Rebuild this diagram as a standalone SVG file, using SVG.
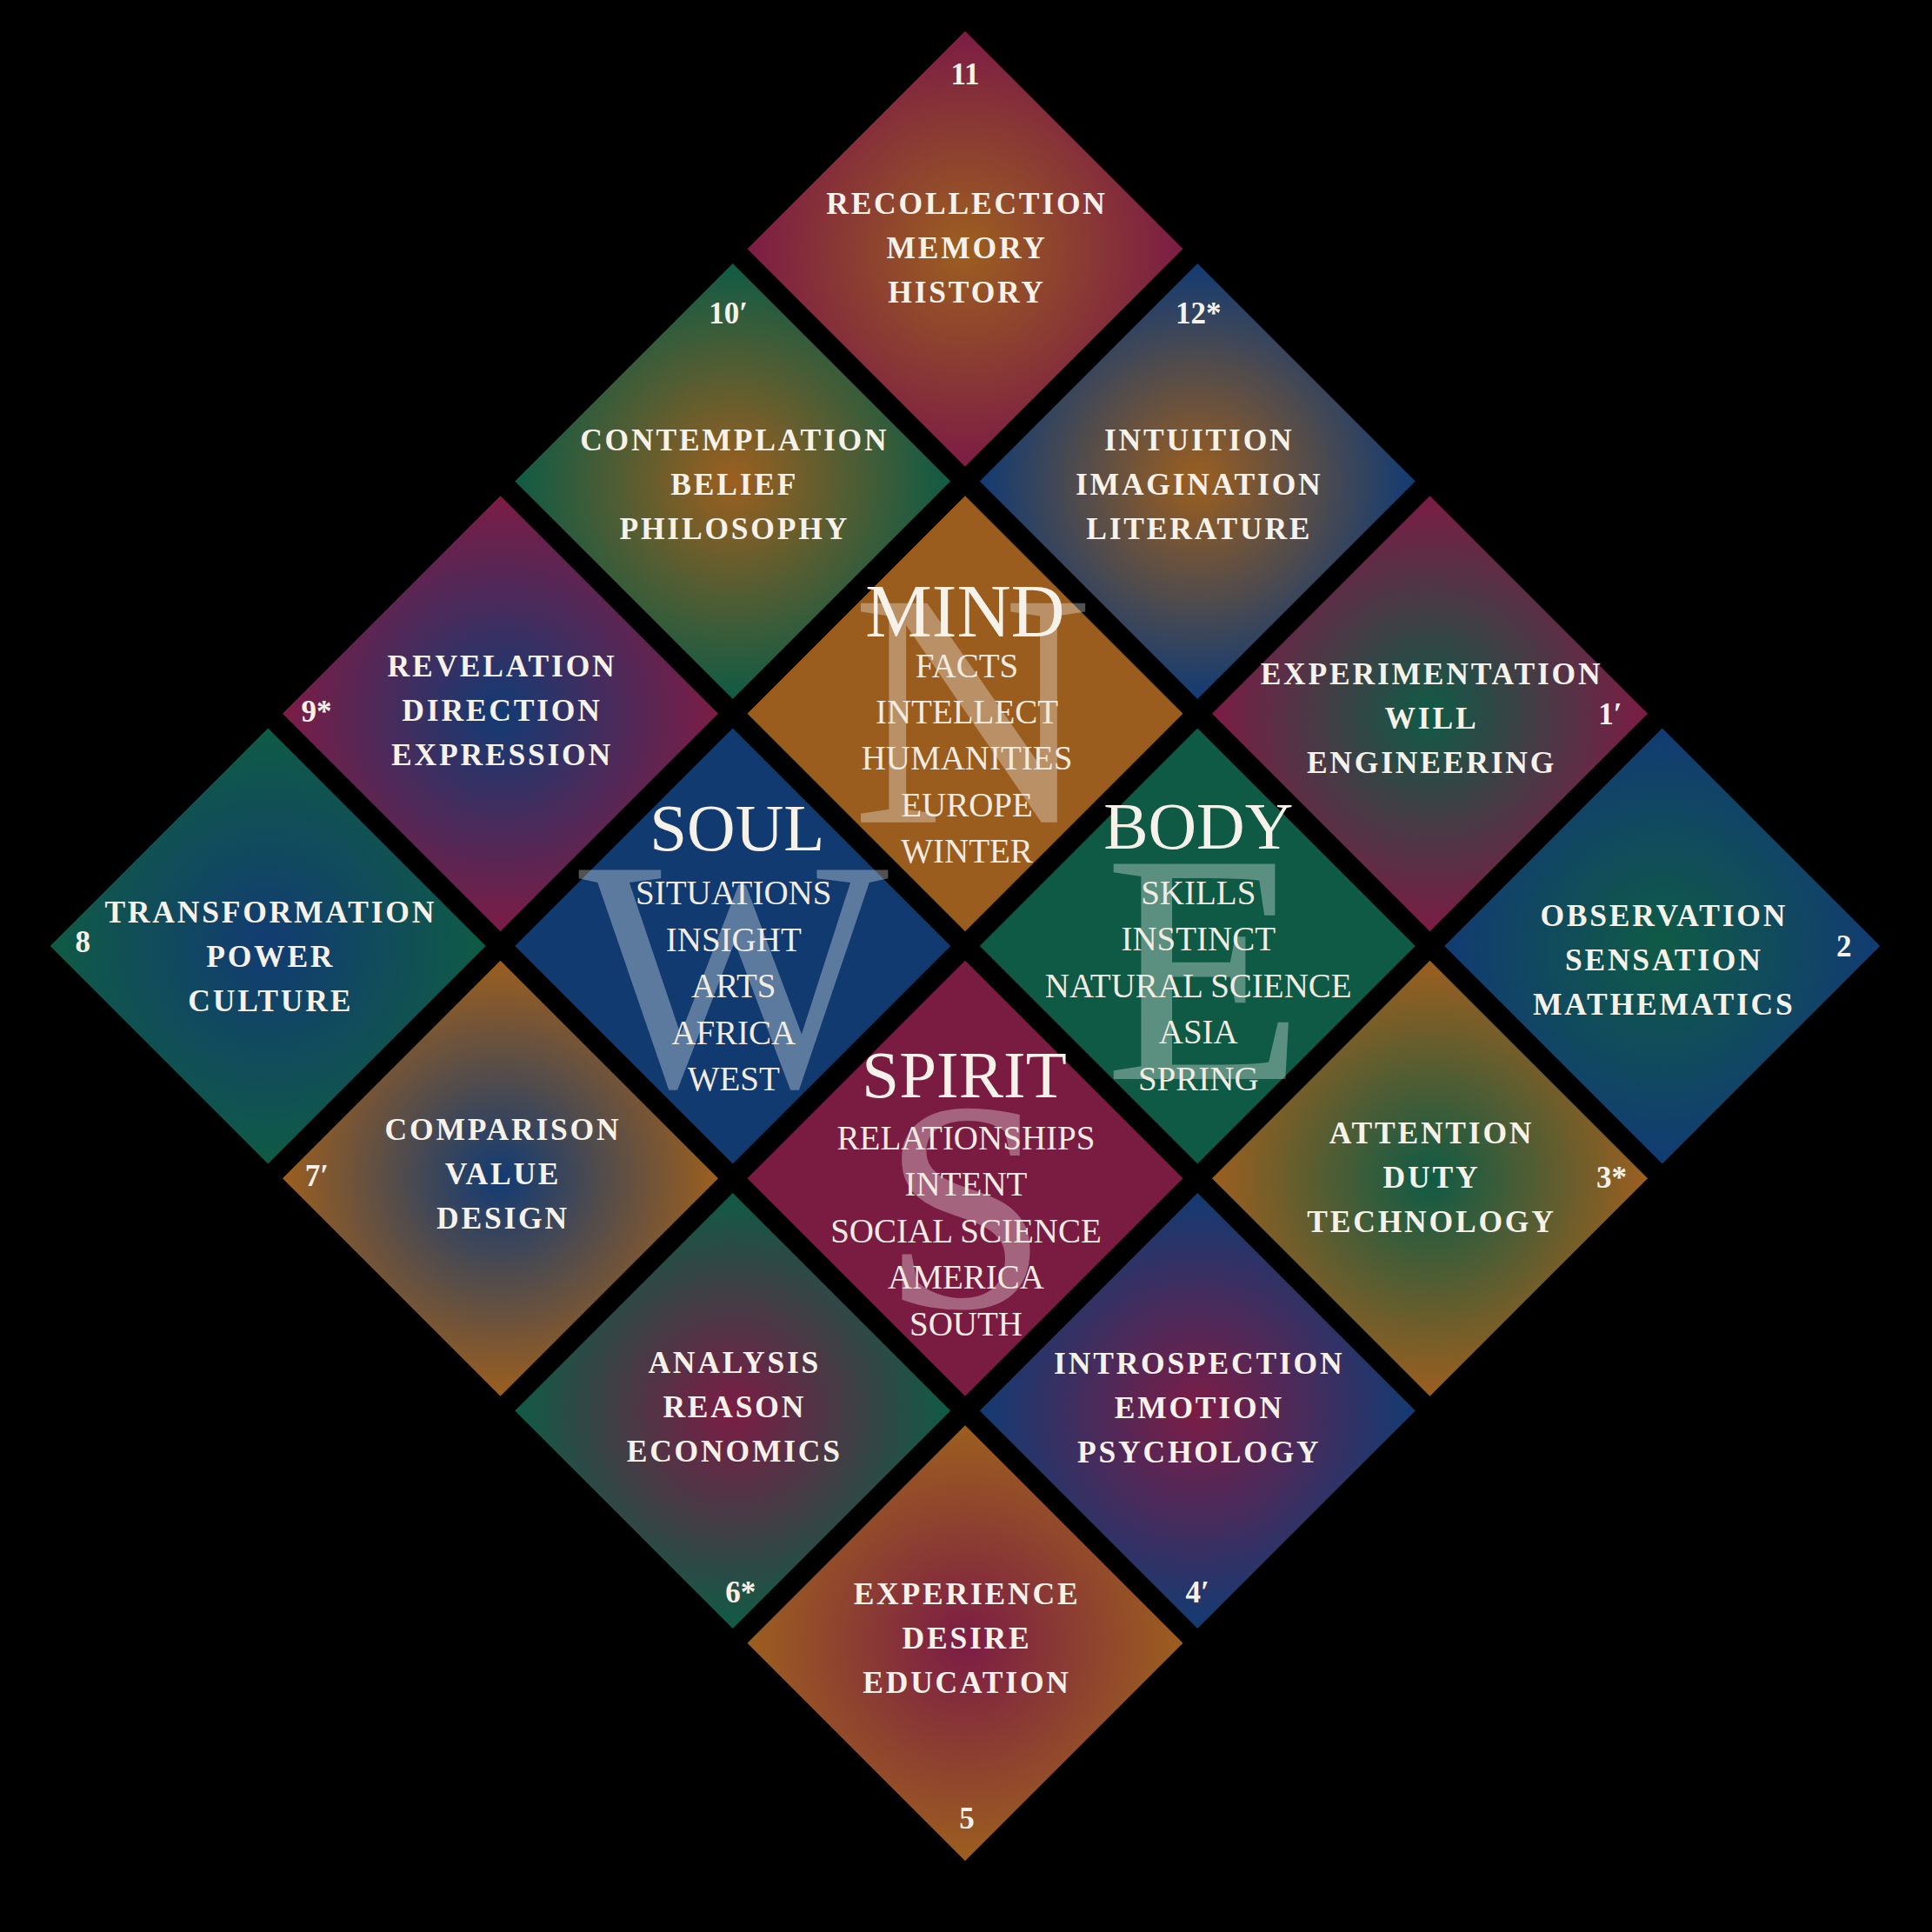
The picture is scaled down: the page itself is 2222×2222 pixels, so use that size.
<svg xmlns="http://www.w3.org/2000/svg" width="2222" height="2222" viewBox="0 0 2222 2222">
<defs>
<style>
text{font-family:"Liberation Serif","DejaVu Serif",serif;fill:#f6f2ea;text-anchor:middle}
.lbl{font-weight:bold;font-size:35.5px;letter-spacing:2.8px}
.num{font-weight:bold;font-size:35px}
.ttl{font-size:77px}
.sub{font-size:39px;fill:#f1ebe2}
.big{fill:#ffffff;fill-opacity:0.32}
</style>
<polygon id="dia" points="0,-250.5 250.5,0 0,250.5 -250.5,0"/>
<radialGradient id="g-or-mg" cx="0.5" cy="0.5" r="0.5"><stop offset="0" stop-color="#9c5f1f"/><stop offset="1" stop-color="#7c1c45"/></radialGradient>
<radialGradient id="g-or-gr" cx="0.5" cy="0.5" r="0.5"><stop offset="0" stop-color="#9c5f1f"/><stop offset="1" stop-color="#0f5b45"/></radialGradient>
<radialGradient id="g-or-bl" cx="0.5" cy="0.5" r="0.5"><stop offset="0" stop-color="#9c5f1f"/><stop offset="1" stop-color="#123b73"/></radialGradient>
<radialGradient id="g-bl-mg" cx="0.5" cy="0.5" r="0.5"><stop offset="0" stop-color="#123b73"/><stop offset="1" stop-color="#7c1c45"/></radialGradient>
<radialGradient id="g-gr-mg" cx="0.5" cy="0.5" r="0.5"><stop offset="0" stop-color="#0f5b45"/><stop offset="1" stop-color="#7c1c45"/></radialGradient>
<radialGradient id="g-bl-gr" cx="0.5" cy="0.5" r="0.5"><stop offset="0" stop-color="#123b73"/><stop offset="1" stop-color="#0f5b45"/></radialGradient>
<radialGradient id="g-gr-bl" cx="0.5" cy="0.5" r="0.5"><stop offset="0" stop-color="#0f5b45"/><stop offset="1" stop-color="#123b73"/></radialGradient>
<radialGradient id="g-bl-or" cx="0.5" cy="0.5" r="0.5"><stop offset="0" stop-color="#123b73"/><stop offset="1" stop-color="#9c5f1f"/></radialGradient>
<radialGradient id="g-gr-or" cx="0.5" cy="0.5" r="0.5"><stop offset="0" stop-color="#0f5b45"/><stop offset="1" stop-color="#9c5f1f"/></radialGradient>
<radialGradient id="g-mg-gr" cx="0.5" cy="0.5" r="0.5"><stop offset="0" stop-color="#7c1c45"/><stop offset="1" stop-color="#0f5b45"/></radialGradient>
<radialGradient id="g-mg-bl" cx="0.5" cy="0.5" r="0.5"><stop offset="0" stop-color="#7c1c45"/><stop offset="1" stop-color="#123b73"/></radialGradient>
<radialGradient id="g-mg-or" cx="0.5" cy="0.5" r="0.5"><stop offset="0" stop-color="#7c1c45"/><stop offset="1" stop-color="#9c5f1f"/></radialGradient>
</defs>
<rect x="0" y="0" width="2222" height="2222" fill="#000"/>
<g id="connectors"/>

<g id="n11" transform="translate(1110,286.25)">
<use href="#dia" fill="url(#g-or-mg)"/>
<text class="num" x="0" y="-189">11</text>
<text class="lbl" x="2" y="-40">RECOLLECTION</text>
<text class="lbl" x="2" y="11">MEMORY</text>
<text class="lbl" x="2" y="62">HISTORY</text>
</g>

<g id="n10" transform="translate(842.75,553.5)">
<use href="#dia" fill="url(#g-or-gr)"/>
<text class="num" x="-5" y="-181.5">10′</text>
<text class="lbl" x="2" y="-36">CONTEMPLATION</text>
<text class="lbl" x="2" y="15">BELIEF</text>
<text class="lbl" x="2" y="66">PHILOSOPHY</text>
</g>

<g id="n12" transform="translate(1377.25,553.5)">
<use href="#dia" fill="url(#g-or-bl)"/>
<text class="num" x="1" y="-181.5">12*</text>
<text class="lbl" x="2" y="-36">INTUITION</text>
<text class="lbl" x="2" y="15">IMAGINATION</text>
<text class="lbl" x="2" y="66">LITERATURE</text>
</g>

<g id="n9" transform="translate(575.5,820.75)">
<use href="#dia" fill="url(#g-bl-mg)"/>
<text class="num" x="-211.5" y="9">9*</text>
<text class="lbl" x="2" y="-43">REVELATION</text>
<text class="lbl" x="2" y="8">DIRECTION</text>
<text class="lbl" x="2" y="59">EXPRESSION</text>
</g>

<g id="n1" transform="translate(1644.5,820.75)">
<use href="#dia" fill="url(#g-gr-mg)"/>
<text class="num" x="207.5" y="12">1′</text>
<text class="lbl" x="2" y="-34">EXPERIMENTATION</text>
<text class="lbl" x="2" y="17">WILL</text>
<text class="lbl" x="2" y="68">ENGINEERING</text>
</g>

<g id="n8" transform="translate(308.25,1088)">
<use href="#dia" fill="url(#g-bl-gr)"/>
<text class="num" x="-213" y="7">8</text>
<text class="lbl" x="3" y="-27">TRANSFORMATION</text>
<text class="lbl" x="3" y="24">POWER</text>
<text class="lbl" x="3" y="75">CULTURE</text>
</g>

<g id="n2" transform="translate(1911.75,1088)">
<use href="#dia" fill="url(#g-gr-bl)"/>
<text class="num" x="209" y="12">2</text>
<text class="lbl" x="2" y="-23">OBSERVATION</text>
<text class="lbl" x="2" y="28">SENSATION</text>
<text class="lbl" x="2" y="79">MATHEMATICS</text>
</g>

<g id="n7" transform="translate(575.5,1355.25)">
<use href="#dia" fill="url(#g-bl-or)"/>
<text class="num" x="-211" y="9">7′</text>
<text class="lbl" x="3" y="-44">COMPARISON</text>
<text class="lbl" x="3" y="7">VALUE</text>
<text class="lbl" x="3" y="58">DESIGN</text>
</g>

<g id="n3" transform="translate(1644.5,1355.25)">
<use href="#dia" fill="url(#g-gr-or)"/>
<text class="num" x="209" y="11">3*</text>
<text class="lbl" x="2" y="-40">ATTENTION</text>
<text class="lbl" x="2" y="11">DUTY</text>
<text class="lbl" x="2" y="62">TECHNOLOGY</text>
</g>

<g id="n6" transform="translate(842.75,1622.5)">
<use href="#dia" fill="url(#g-mg-gr)"/>
<text class="num" x="9" y="220.5">6*</text>
<text class="lbl" x="2" y="-44">ANALYSIS</text>
<text class="lbl" x="2" y="7">REASON</text>
<text class="lbl" x="2" y="58">ECONOMICS</text>
</g>

<g id="n4" transform="translate(1377.25,1622.5)">
<use href="#dia" fill="url(#g-mg-bl)"/>
<text class="num" x="0" y="220.5">4′</text>
<text class="lbl" x="2" y="-43">INTROSPECTION</text>
<text class="lbl" x="2" y="8">EMOTION</text>
<text class="lbl" x="2" y="59">PSYCHOLOGY</text>
</g>

<g id="n5" transform="translate(1110,1889.75)">
<use href="#dia" fill="url(#g-mg-or)"/>
<text class="num" x="2" y="213">5</text>
<text class="lbl" x="2" y="-45">EXPERIENCE</text>
<text class="lbl" x="2" y="6">DESIRE</text>
<text class="lbl" x="2" y="57">EDUCATION</text>
</g>

<g id="mind" transform="translate(1110,820.75)">
<use href="#dia" fill="#9a5d1e"/>
<text class="big" x="8" y="125" font-size="385">N</text>
<text x="0" y="-88.75" font-size="86">MIND</text>
<text class="sub" x="2" y="-42">FACTS</text>
<text class="sub" x="2" y="11.3">INTELLECT</text>
<text class="sub" x="2" y="64.6">HUMANITIES</text>
<text class="sub" x="2" y="118">EUROPE</text>
<text class="sub" x="2" y="171.3">WINTER</text>
</g>

<g id="soul" transform="translate(842.75,1088)">
<use href="#dia" fill="#103a70"/>
<text class="big" x="1" y="160" font-size="378">W</text>
<text class="ttl" x="5" y="-110.3">SOUL</text>
<text class="sub" x="1" y="-47.6">SITUATIONS</text>
<text class="sub" x="1" y="5.8">INSIGHT</text>
<text class="sub" x="1" y="59.2">ARTS</text>
<text class="sub" x="1" y="112.6">AFRICA</text>
<text class="sub" x="1" y="166">WEST</text>
</g>

<g id="body" transform="translate(1377.25,1088)">
<use href="#dia" fill="#0e5a45"/>
<text class="big" x="8" y="153" font-size="378">E</text>
<text class="ttl" x="1" y="-111.7">BODY</text>
<text class="sub" x="1" y="-48">SKILLS</text>
<text class="sub" x="1" y="5.4">INSTINCT</text>
<text class="sub" x="1" y="58.8">NATURAL SCIENCE</text>
<text class="sub" x="1" y="112.2">ASIA</text>
<text class="sub" x="1" y="165.6">SPRING</text>
</g>

<g id="spirit" transform="translate(1110,1355.25)">
<use href="#dia" fill="#7a1b42"/>
<text class="big" x="0" y="148" font-size="345" fill-opacity="0.3">S</text>
<text class="ttl" x="-1" y="-93.5">SPIRIT</text>
<text class="sub" x="1" y="-33.3">RELATIONSHIPS</text>
<text class="sub" x="1" y="20.1">INTENT</text>
<text class="sub" x="1" y="73.5">SOCIAL SCIENCE</text>
<text class="sub" x="1" y="126.9">AMERICA</text>
<text class="sub" x="1" y="180.3">SOUTH</text>
</g>
</svg>
